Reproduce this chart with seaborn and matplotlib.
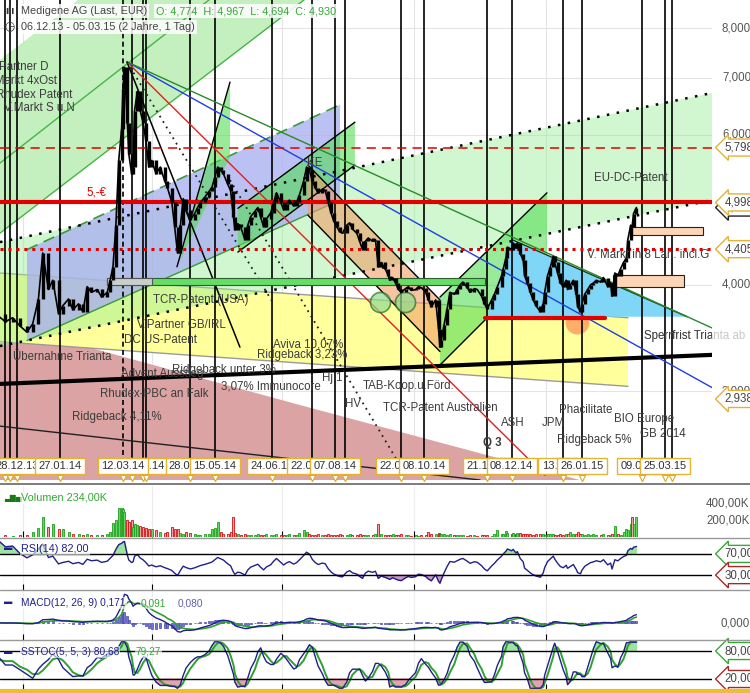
import numpy as np
import pandas as pd
import matplotlib
matplotlib.use("Agg")
import matplotlib.pyplot as plt
import seaborn as sns
from matplotlib.lines import Line2D

sns.set_style("white")
plt.rcParams["font.family"] = ["Liberation Sans", "DejaVu Sans"]

START = pd.Timestamp("2013-12-06")

# Kursverlauf: Tage seit 06.12.13, Schlusskurs (EUR), Volumen (Tsd.)
tage = [0, 7, 14, 19, 24, 29, 33, 37, 40, 44,
        47, 51, 54, 58, 61, 65, 68, 71, 74, 78,
        81, 85, 87, 89, 91, 93, 95, 96, 97, 99,
        100, 102, 103, 104, 106, 108, 110, 112, 114, 116,
        119, 122, 125, 127, 130, 132, 134, 136, 138, 140,
        143, 146, 148, 150, 153, 156, 158, 160, 162, 164,
        166, 169, 171, 173, 174, 176, 178, 181, 183, 185,
        188, 190, 192, 194, 196, 199, 201, 203, 206, 208,
        210, 212, 215, 217, 219, 222, 224, 226, 228, 230,
        232, 235, 237, 239, 241, 243, 245, 247, 249, 252,
        254, 256, 259, 261, 263, 265, 267, 270, 272, 274,
        276, 279, 281, 282, 284, 286, 288, 290, 293, 295,
        297, 300, 302, 304, 307, 309, 311, 314, 316, 317,
        318, 320, 322, 324, 327, 329, 331, 333, 336, 338,
        341, 343, 346, 348, 350, 353, 355, 357, 360, 361,
        363, 364, 367, 368, 370, 371, 373, 375, 376, 378,
        380, 382, 384, 387, 389, 390, 392, 394, 396, 397,
        399, 401, 403, 405, 406, 408, 410, 412, 413, 415,
        416, 418, 420, 422, 424, 426, 429, 431, 434, 436,
        437, 439, 441, 443, 445, 447, 448, 450, 451, 452,
        454]
kurs = [3.65, 3.70, 3.62, 3.66, 3.58, 3.52, 3.60, 3.85, 4.36, 3.95,
        4.05, 3.70, 3.78, 3.85, 3.74, 3.80, 3.72, 3.98, 3.92, 3.95,
        3.87, 3.92, 4.05, 4.20, 4.70, 5.60, 6.10, 6.80, 7.20, 6.20,
        5.70, 5.40, 5.50, 6.40, 6.75, 6.40, 6.20, 5.90, 5.50, 5.60,
        5.40, 5.50, 5.30, 5.20, 5.00, 4.68, 4.36, 4.70, 5.05, 4.90,
        4.77, 4.85, 4.93, 5.00, 5.07, 5.15, 5.21, 5.35, 5.50, 5.45,
        5.40, 5.25, 5.16, 4.80, 4.64, 4.72, 4.68, 4.52, 4.70, 4.81,
        4.88, 4.93, 4.80, 4.68, 4.78, 4.86, 5.00, 5.13, 5.00, 4.90,
        4.98, 5.03, 4.95, 5.00, 5.10, 5.30, 5.50, 5.45, 5.30, 5.20,
        5.13, 5.18, 5.16, 5.00, 4.86, 4.75, 4.68, 4.62, 4.60, 4.70,
        4.73, 4.65, 4.60, 4.50, 4.40, 4.50, 4.54, 4.50, 4.52, 4.20,
        4.25, 4.17, 4.10, 4.05, 4.08, 4.02, 3.95, 3.92, 3.96, 3.98,
        3.94, 3.95, 3.98, 3.97, 3.92, 3.84, 3.77, 3.84, 3.55, 3.38,
        3.45, 3.59, 3.75, 3.92, 3.90, 3.95, 4.00, 4.03, 3.97, 3.92,
        3.96, 3.95, 3.88, 3.80, 3.75, 3.84, 3.90, 3.98, 4.10, 4.17,
        4.30, 4.43, 4.40, 4.48, 4.42, 4.48, 4.35, 4.28, 4.10, 4.02,
        3.92, 3.84, 3.78, 3.72, 3.80, 3.92, 4.10, 4.20, 4.32, 4.25,
        4.13, 4.02, 3.98, 4.05, 3.95, 4.00, 4.05, 3.90, 3.77, 3.72,
        3.80, 3.90, 3.95, 4.00, 4.02, 4.05, 4.03, 4.08, 3.98, 4.02,
        3.88, 4.13, 4.10, 4.18, 4.25, 4.30, 4.52, 4.70, 4.68, 4.85,
        4.93]
volumen = [20, 15, 20, 15, 25, 20, 60, 110, 235, 120,
           150, 100, 90, 60, 40, 30, 25, 30, 20, 25,
           20, 30, 60, 165, 200, 350, 340, 330, 300, 200,
           180, 200, 120, 160, 140, 130, 120, 110, 90, 100,
           80, 60, 50, 60, 120, 100, 90, 50, 40, 60,
           45, 30, 20, 25, 30, 40, 90, 110, 175, 60,
           40, 30, 60, 235, 50, 30, 25, 30, 20, 25,
           20, 30, 20, 25, 30, 20, 25, 30, 20, 25,
           20, 30, 25, 20, 50, 80, 60, 40, 25, 20,
           30, 20, 25, 30, 20, 25, 20, 30, 25, 20,
           30, 25, 20, 30, 25, 20, 25, 20, 30, 150,
           30, 20, 25, 20, 30, 20, 25, 30, 20, 20,
           15, 20, 15, 20, 25, 60, 30, 40, 50, 35,
           30, 40, 25, 30, 20, 20, 25, 20, 15, 20,
           20, 15, 20, 25, 20, 15, 30, 80, 40, 30,
           70, 50, 40, 50, 40, 45, 50, 40, 35, 40,
           30, 25, 30, 40, 30, 25, 30, 35, 30, 25,
           20, 30, 25, 35, 40, 60, 30, 40, 60, 35,
           30, 25, 30, 25, 30, 20, 25, 30, 20, 25,
           30, 130, 40, 25, 60, 100, 80, 150, 235, 150,
           234]

# Ereignislinien und Datumsfahnen
ereignisse = ["20.12.13", "23.12.13", "28.12.13", "27.01.14", "12.03.14", "18.03.14",
              "26.03.14", "28.03.14", "28.04.14", "15.05.14", "24.06.14", "22.07.14",
              "07.08.14", "14.08.14", "22.09.14", "08.10.14", "21.11.14", "08.12.14",
              "13.01.15", "26.01.15", "09.03.15", "25.03.15", "30.03.15"]
ereignis_gestrichelt = ["12.03.14"]
datum_labels = ["28.12.13", "27.01.14", "26.03.14", "12.03.14", "28.04.14", "15.05.14",
                "24.06.14", "22.07.14", "07.08.14", "22.09.14", "08.10.14", "21.11.14",
                "08.12.14", "13.01.15", "26.01.15", "09.03.15", "25.03.15"]
quartale = ["01.01.14", "01.04.14", "01.07.14", "01.10.14", "01.01.15"]

# Kursachse
kurs_ticks = [3, 4, 6, 7, 8]
marken = [(5.798, "5,798"), (4.998, "4,998"), (4.405, "4,405"), (2.938, "2,938")]
aktuell = (4.930, "4,930")

# Zeichnungen (Tag, Kurs)
band_gruen = [(10.2, 7.35), (64.6, 8.64), (222.2, 8.64), (10.2, 4.60)]
linie_a = [(10.2, 5.56), (155.9, 8.64)]
kanal_gross = [(10.2, 4.49), (506.7, 6.72), (506.7, 5.03), (10.2, 3.39)]
kanal_blau = [(29.0, 4.40), (247.3, 6.51), (247.3, 5.03), (29.0, 3.44)]
flaeche_gelb = [(10.2, 4.13), (448.1, 3.66), (448.1, 3.04), (10.2, 3.43)]
flaeche_rot = [(10.2, 3.42), (65.9, 3.40), (219.4, 2.89), (414.6, 2.36), (10.2, 2.36)]
kanal_g1 = [(133.6, 4.20), (170.6, 6.92), (170.6, 5.65)]
kanal_g2 = [(176.1, 4.92), (257.7, 6.21), (257.7, 5.53), (176.1, 4.37)]
kanal_braun = [(224.9, 5.53), (317.0, 3.84), (317.0, 3.34), (224.9, 4.83)]
kanal_g3 = [(317.0, 3.87), (391.6, 5.13), (391.6, 4.30), (317.0, 3.22)]
dreieck = [(349.8, 3.67), (367.2, 4.52), (489.3, 3.67)]
strahl_schwarz = [(98.7, 7.31), (177.5, 3.38)]
strahl_rot = [(98.7, 7.31), (390.2, 2.39)]
strahl_blau = [(98.7, 7.31), (506.7, 3.03)]
strahl_gruen = [(98.7, 7.31), (506.7, 3.56)]
punkt_1 = [(98.7, 7.31), (200.6, 3.81)]
punkt_2 = [(170.6, 5.31), (287.0, 2.49)]
linie_dick = [(10.2, 3.06), (506.7, 3.31)]
linie_duenn = [(10.2, 2.73), (344.9, 2.36)]
rote_strecke = [(348.4, 3.66), (432.1, 3.66)]
balken_gruen = (84.8, 348.4, 4.00, 4.07)
balken_grau = (84.8, 116.2, 4.00, 4.07)
kreise = [(275.2, 3.82), (292.6, 3.82)]
kreis_orange = (412.6, 3.62)
rechtecke = [(450.9, 500.4, 4.58, 4.68), (437.7, 487.2, 3.98, 4.11)]

texte = [("Partner D", 9.5, 7.21), ("V.Markt 4xOst", 0.0, 6.94), ("Rhudex Patent", 7.4, 6.69),
         ("V.Markt S u.N", 13.0, 6.45), ("KE", 224.3, 5.56), ("EU-DC-Patent", 424.4, 5.34),
         ("TCR-Patent (USA)", 116.9, 3.84), ("V.Partner GB/IRL", 105.7, 3.59),
         ("DC US-Patent", 96.6, 3.45), ("Übernahme Trianta", 19.2, 3.29),
         ("Advent Ausstieg", 94.6, 3.14), ("Ridgeback unter 3%", 130.1, 3.18),
         ("3,07% Immunocore", 164.3, 3.04), ("Rhudex-PBC an Falk", 79.9, 2.98),
         ("Ridgeback 4,11%", 60.4, 2.80), ("Aviva 10,07%", 200.6, 3.40),
         ("Ridgeback 3,23%", 189.4, 3.31), ("Hj.1", 234.7, 3.11), ("HV", 250.8, 2.90),
         ("TAB-Koop.u.Förd.", 263.3, 3.04), ("TCR-Patent Australien", 277.3, 2.87),
         ("ASH", 359.6, 2.75), ("JPM", 388.1, 2.75), ("Phacilitate", 400.0, 2.85),
         ("Ridgeback 5%", 398.6, 2.63), ("BIO Europe", 438.4, 2.78), ("GB 2014", 456.5, 2.67)]

# Indikator-Perioden, umgerechnet auf die Stuetzstellen (ca. 1,5 Handelstage je Punkt)
RSI_N = 9
MACD_F, MACD_S, MACD_SIG = 8, 17, 6
STO_K, STO_GL, STO_D = 5, 5, 3


def tag(d):
    return (pd.to_datetime(d, format="%d.%m.%y") - START).days


df = pd.DataFrame({"tag": tage, "kurs": kurs, "vol": volumen})
df["vor"] = df["kurs"].shift(1).fillna(df["kurs"])
df["steigt"] = df["kurs"] >= df["vor"]

# Indikatoren aus den Schlusskursen
delta = df["kurs"].diff()
gewinn = delta.clip(lower=0).ewm(alpha=1 / RSI_N, adjust=False).mean()
verlust = (-delta.clip(upper=0)).ewm(alpha=1 / RSI_N, adjust=False).mean()
df["rsi"] = 100 - 100 / (1 + gewinn / verlust)
df["macd"] = (df["kurs"].ewm(span=MACD_F, adjust=False).mean()
              - df["kurs"].ewm(span=MACD_S, adjust=False).mean())
df["signal"] = df["macd"].ewm(span=MACD_SIG, adjust=False).mean()
df["hist"] = df["macd"] - df["signal"]
tief = df["kurs"].rolling(STO_K, min_periods=1).min()
hoch = df["kurs"].rolling(STO_K, min_periods=1).max()
k_roh = (100 * (df["kurs"] - tief) / (hoch - tief).replace(0, np.nan)).fillna(50)
df["k"] = k_roh.rolling(STO_GL, min_periods=1).mean()
df["d"] = df["k"].rolling(STO_D, min_periods=1).mean()

W, H = 750, 693
fig = plt.figure(figsize=(7.5, 6.93), dpi=100)


def rect(top, bottom):
    return [0, 1 - bottom / H, 712 / W, (bottom - top) / H]


ax = fig.add_axes(rect(0, 480))
ax_vol = fig.add_axes(rect(486, 537))
ax_rsi = fig.add_axes(rect(538, 590))
ax_macd = fig.add_axes(rect(590, 640))
ax_sto = fig.add_axes(rect(640, 690))

XL = (10.2, 506.7)
TXT = "#3c3c3c"
q_tage = [tag(q) for q in quartale]


def flaeche(pts, **kw):
    xs, ys = zip(*pts)
    ax.fill(xs, ys, lw=0, **kw)


def linie(pts, **kw):
    xs, ys = zip(*pts)
    ax.plot(xs, ys, **kw)


# --- Hauptchart ---
ax.set_yscale("log")
ax.set_xlim(*XL)
ax.set_ylim(2.36, 8.64)
for v in kurs_ticks + [5]:
    ax.axhline(v, color="#e4e4e4", lw=0.8, zorder=0.5)
for q in q_tage:
    ax.axvline(q, color="#e4e4e4", lw=0.8, zorder=0.5)

flaeche(flaeche_rot, color="#dba3a3", zorder=1)
flaeche(flaeche_gelb, color="#ffff9c", zorder=1.1)
linie(flaeche_gelb[:2], color="#9a9a9a", lw=1, zorder=1.2)
linie(flaeche_gelb[3:] + flaeche_gelb[2:3], color="#9a9a9a", lw=1, zorder=1.2)
flaeche(band_gruen, color="#c4efbf", zorder=1.15)
linie(linie_a, color="#45b545", lw=1, zorder=1.3)
linie([band_gruen[3], band_gruen[2]], color="#45b545", lw=1, zorder=1.3)
flaeche(kanal_gross, color="#90ee90", alpha=0.42, zorder=1.3)
flaeche(kanal_blau, color="#aab0f0", alpha=0.78, zorder=1.4)
linie(kanal_blau[:2], color="#3a9a3a", lw=1.2, ls=(0, (7, 4)), zorder=1.5)
linie([kanal_blau[3], kanal_blau[2]], color="#3a9a3a", lw=1, zorder=1.5)
for poly in (kanal_g1, kanal_g2, kanal_g3):
    flaeche(poly, color="#55dd55", alpha=0.6, zorder=1.6)
flaeche(kanal_braun, color="#f0a068", alpha=0.6, zorder=1.6)
linie(kanal_g1[:2], color="black", lw=1, zorder=1.7)
for poly in (kanal_g2, kanal_braun, kanal_g3):
    linie(poly[:2], color="black", lw=1, zorder=1.7)
    linie([poly[3], poly[2]], color="black", lw=1, zorder=1.7)
ax.scatter(*kreis_orange, s=300, color="#ffa060", alpha=0.85, lw=0, zorder=1.65)
flaeche(dreieck, color="#7fd6f6", zorder=1.7)
linie(dreieck[1:], color="#1c3c1c", lw=1, zorder=1.8)

for d in ereignisse:
    ax.axvline(tag(d), color="black", lw=1.2, zorder=2.5,
               ls=(0, (3, 2)) if d in ereignis_gestrichelt else "-")

linie(linie_duenn, color="#202020", lw=1, zorder=2.6)
linie(linie_dick, color="black", lw=3, zorder=2.6)
linie(kanal_gross[:2], color="black", lw=1.8, ls=(0, (1, 3)), zorder=2.6)
linie([kanal_gross[3], kanal_gross[2]], color="black", lw=1.8, ls=(0, (1, 3)), zorder=2.6)
linie(strahl_schwarz, color="black", lw=1.1, zorder=2.7)
linie(strahl_rot, color="#e02020", lw=1, zorder=2.7)
linie(strahl_blau, color="#1f3fe0", lw=1, zorder=2.7)
linie(strahl_gruen, color="#2a8a2a", lw=1, zorder=2.7)
linie(punkt_1, color="#202020", lw=1.3, ls=(0, (1, 2.5)), zorder=2.7)
linie(punkt_2, color="#202020", lw=1.3, ls=(0, (1, 2.5)), zorder=2.7)

ax.axhline(marken[1][0], color="#e00000", lw=3, zorder=2.8)
ax.axhline(marken[0][0], color="#e00000", lw=1.1, ls=(0, (6, 4)), zorder=2.8)
ax.axhline(marken[2][0], color="#e00000", lw=2.2, ls=(0, (1, 1.6)), zorder=2.8)
linie(rote_strecke, color="#e00000", lw=3, zorder=2.8)

x0, x1, y0, y1 = balken_gruen
ax.fill([x0, x1, x1, x0], [y0, y0, y1, y1], color="#66dd66", ec="#2f5f2f", lw=0.8, zorder=2.9)
x0, x1, y0, y1 = balken_grau
ax.fill([x0, x1, x1, x0], [y0, y0, y1, y1], color="#c9cfc9", ec="#555555", lw=0.8, zorder=2.95)
for kx, ky in kreise:
    ax.scatter(kx, ky, s=210, color="#8fdc8f", alpha=0.7, ec="#2a6a2a", lw=1.2, zorder=2.9)
for x0, x1, y0, y1 in rechtecke:
    ax.fill([x0, x1, x1, x0], [y0, y0, y1, y1], color="#fcd4b6", ec="#222222", lw=0.8, zorder=3)

# Kurs
ax.vlines(df["tag"], np.minimum(df["vor"], df["kurs"]), np.maximum(df["vor"], df["kurs"]),
          color="black", lw=2.4, zorder=4)
sns.lineplot(data=df, x="tag", y="kurs", ax=ax, color="black", lw=1.2, zorder=4)

for t, x, y in texte:
    ax.text(x, y, t, fontsize=8.3, color=TXT, va="center", ha="left", zorder=5)
ax.text(70.2, 5.13, "5,-€", fontsize=8.3, color="#e00000", va="center", zorder=5)
ax.text(347.0, 2.61, "Q 3", fontsize=8.3, color=TXT, fontweight="bold", va="center", zorder=5)
ax.text(419.5, 4.34, "V. Markt in 8 Län. incl.G", fontsize=8.3, color=TXT, va="center",
        zorder=5, clip_on=True)
ax.text(459.3, 3.48, "Sperrfrist Trianta ab", fontsize=8.3, color="#c8c8c8", va="center", zorder=5)
ax.text(459.3, 3.48, "Sperrfrist Trianta ab", fontsize=8.3, color=TXT, va="center",
        zorder=5.1, clip_on=True)

xtr = ax.get_xaxis_transform()
for d in datum_labels:
    ax.text(tag(d), 0.029, d, transform=xtr, fontsize=8, color="#333333", ha="center",
            va="center", zorder=6,
            bbox=dict(boxstyle="square,pad=0.3", fc="white", ec="#e6b432", lw=1))
ax.scatter([tag(d) for d in ereignisse], [0.004] * len(ereignisse), transform=xtr,
           marker="v", s=20, fc="white", ec="#e0aa20", lw=0.8, zorder=7, clip_on=False)

ytr = ax.get_yaxis_transform()
for v in kurs_ticks:
    ax.text(1.014, v, f"{v},000", transform=ytr, fontsize=8.3, color="#555555", va="center")
ax.text(1.018, aktuell[0], aktuell[1], transform=ytr, fontsize=8.3, color="#444444", va="center",
        bbox=dict(boxstyle="larrow,pad=0.22", fc="white", ec="#222222", lw=1))
for v, s in marken:
    ax.text(1.018, v, s, transform=ytr, fontsize=8.3, color="#444444", va="center",
            bbox=dict(boxstyle="larrow,pad=0.22", fc="white", ec="#e2b23a", lw=1))

ax.set_xticks([])
ax.set_yticks([])
ax.minorticks_off()
ax.set_xlabel("")
ax.set_ylabel("")
sns.despine(ax=ax, left=True, bottom=True, right=True, top=True)

# --- Volumen ---
farben = np.where(df["steigt"], "#62d862", "#f5a3a3")
kanten = np.where(df["steigt"], "#1e9e1e", "#d01010")
ax_vol.bar(df["tag"], df["vol"], width=1.4, color=farben, edgecolor=kanten, lw=0.6)
ax_vol.set_ylim(0, 606)
vtr = ax_vol.get_yaxis_transform()
ax_vol.text(1.053, 400, "400,00K", transform=vtr, fontsize=8.3, color="#555555", ha="right", va="center")
ax_vol.text(1.053, 200, "200,00K", transform=vtr, fontsize=8.3, color="#555555", ha="right", va="center")

# --- RSI ---
sns.lineplot(data=df, x="tag", y="rsi", ax=ax_rsi, color="#20208c", lw=1)
ax_rsi.fill_between(df["tag"], df["rsi"], 70, where=df["rsi"] > 70, color="#9ee39e", interpolate=True)
ax_rsi.fill_between(df["tag"], df["rsi"], 30, where=df["rsi"] < 30, color="#c99ac9", interpolate=True)
for v in (70, 30):
    ax_rsi.axhline(v, color="black", lw=1)
ax_rsi.set_ylim(1.9, 100)

# --- MACD ---
ax_macd.bar(df["tag"], df["hist"], width=1.4, color="#7474d4", edgecolor="#4848b0", lw=0.5)
sns.lineplot(data=df, x="tag", y="signal", ax=ax_macd, color="#30a030", lw=1.2)
sns.lineplot(data=df, x="tag", y="macd", ax=ax_macd, color="#20208c", lw=1)
m_top = 1.15 * max(df["macd"].max(), df["signal"].max(), -df["macd"].min() * 33 / 17)
ax_macd.set_ylim(-m_top * 17 / 33, m_top)
ax_macd.text(1.053, 0, "0,000", transform=ax_macd.get_yaxis_transform(), fontsize=8.3,
             color="#555555", ha="right", va="center")

# --- SSTOC ---
ax_sto.fill_between(df["tag"], df["k"], 80, where=df["k"] > 80, color="#9ee39e", interpolate=True)
ax_sto.fill_between(df["tag"], df["k"], 20, where=df["k"] < 20, color="#e3a3b3", interpolate=True)
sns.lineplot(data=df, x="tag", y="d", ax=ax_sto, color="#30a030", lw=1.4)
sns.lineplot(data=df, x="tag", y="k", ax=ax_sto, color="#20208c", lw=1)
for v in (80, 20):
    ax_sto.axhline(v, color="black", lw=1)
ax_sto.set_ylim(-3.6, 103.6)

for a, (hi, oben), (lo, unten) in ((ax_rsi, (70, "70,00"), (30, "30,00")),
                                   (ax_sto, (80, "80,00"), (20, "20,00"))):
    t = a.get_yaxis_transform()
    a.text(1.018, hi, oben, transform=t, fontsize=8.3, color="#444444", va="center",
           bbox=dict(boxstyle="larrow,pad=0.22", fc="white", ec="#38a838", lw=1))
    a.text(1.018, lo, unten, transform=t, fontsize=8.3, color="#444444", va="center",
           bbox=dict(boxstyle="larrow,pad=0.22", fc="white", ec="#a82828", lw=1))

for a in (ax_vol, ax_rsi, ax_macd, ax_sto):
    a.set_xlim(*XL)
    a.set_xticks(q_tage)
    a.set_yticks([])
    a.tick_params(axis="x", direction="in", length=4, color="black", labelbottom=False, bottom=True)
    a.set_xlabel("")
    a.set_ylabel("")
    for q in q_tage:
        a.axvline(q, color="#ececec", lw=0.8, zorder=0)
    sns.despine(ax=a, left=True, right=True, top=True, bottom=True)

# Trennlinien
for y, c, w in ((484, "#666666", 1.2), (538, "#999999", 1), (590, "#999999", 1),
                (640, "#999999", 1), (691, "#f0c020", 3)):
    fig.add_artist(Line2D([0, 1], [1 - y / H] * 2, color=c, lw=w))


# Kopfzeilen und Panel-Titel
def ftext(x, y, s, **kw):
    fig.text(x / W, 1 - y / H, s, va="center", ha="left", **kw)


box = dict(boxstyle="square,pad=0.2", fc="white", ec="none", alpha=0.85)
hell = dict(boxstyle="square,pad=0.1", fc="white", ec="none", alpha=0.6)
ftext(5, 11, "ılı", fontsize=8, color="#333333", fontweight="bold")
ftext(21, 11, "Medigene AG (Last, EUR)", fontsize=7.8, color="#444444", bbox=box)
ftext(156, 11, "O: 4,774  H: 4,967  L: 4,694  C: 4,930", fontsize=7.8, color="#33a833", bbox=box)
ftext(4, 27, "◷", fontsize=8.5, color="#333333")
ftext(21, 27, "06.12.13 - 05.03.15 (2 Jahre, 1 Tag)", fontsize=7.8, color="#444444", bbox=box)

ftext(4, 498, "▃▇▅", fontsize=5.5, color="#1a7a1a")
ftext(21, 498, "Volumen 234,00K", fontsize=7.8, color="#33a833", bbox=hell)
ftext(4, 549, "▬", fontsize=6, color="#20208c")
ftext(21, 549, "RSI(14) 82,00", fontsize=7.8, color="#20208c", bbox=hell)
ftext(4, 603, "▬", fontsize=6, color="#20208c")
ftext(21, 603, "MACD(12, 26, 9) 0,171", fontsize=7.3, color="#20208c", bbox=hell)
ftext(141, 603, "0,091", fontsize=7.3, color="#33a833", bbox=hell)
ftext(178, 603, "0,080", fontsize=7.3, color="#6060b0", bbox=hell)
ftext(4, 652, "▬", fontsize=6, color="#20208c")
ftext(21, 652, "SSTOC(5, 5, 3) 80,68", fontsize=7.3, color="#20208c", bbox=hell)
ftext(136, 652, "79,27", fontsize=7.3, color="#33a833", bbox=hell)

fig.savefig("out.png", dpi=100, facecolor="white")
